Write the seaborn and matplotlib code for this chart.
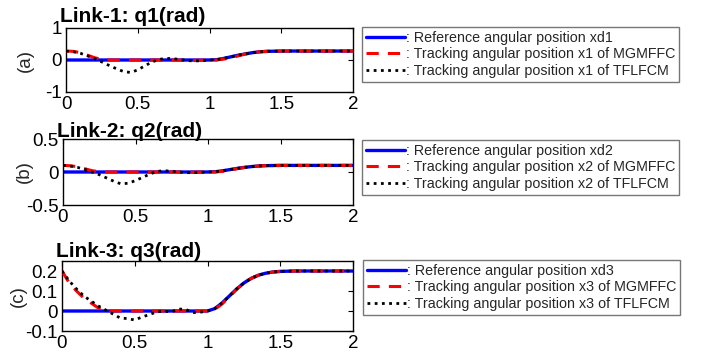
import numpy as np
import pandas as pd
import matplotlib
matplotlib.use("Agg")
import matplotlib.pyplot as plt
import seaborn as sns

# ---------------- data ----------------
t = [0.00, 0.05, 0.10, 0.15, 0.20, 0.25, 0.30, 0.35, 0.40, 0.45,
     0.50, 0.55, 0.60, 0.65, 0.70, 0.75, 0.80, 0.85, 0.90, 0.95,
     1.00, 1.05, 1.10, 1.15, 1.20, 1.25, 1.30, 1.35, 1.40, 1.45,
     1.50, 1.55, 1.60, 1.65, 1.70, 1.75, 1.80, 1.85, 1.90, 1.95, 2.00]

# Link 1
ref1 = [0, 0, 0, 0, 0, 0, 0, 0, 0, 0,
        0, 0, 0, 0, 0, 0, 0, 0, 0, 0,
        0, 0.01, 0.05, 0.10, 0.15, 0.19, 0.23, 0.255, 0.27, 0.275,
        0.28, 0.28, 0.28, 0.28, 0.28, 0.28, 0.28, 0.28, 0.28, 0.28, 0.28]
mg1 = [0.28, 0.27, 0.23, 0.15, 0.07, 0.02, 0.0, 0, 0, 0,
       0, 0, 0, 0, 0, 0, -0.005, -0.01, -0.01, -0.005,
       0, 0.0, 0.03, 0.06, 0.13, 0.19, 0.23, 0.26, 0.27, 0.275,
       0.28, 0.28, 0.28, 0.28, 0.28, 0.28, 0.28, 0.28, 0.28, 0.28, 0.28]
tf1 = [0.28, 0.26, 0.21, 0.13, 0.04, -0.06, -0.17, -0.27, -0.36, -0.39,
       -0.31, -0.18, -0.06, 0.02, 0.05, 0.04, 0.01, -0.02, -0.03, -0.02,
       0.0, 0.01, 0.05, 0.10, 0.15, 0.19, 0.23, 0.255, 0.27, 0.275,
       0.28, 0.28, 0.28, 0.28, 0.28, 0.28, 0.28, 0.28, 0.28, 0.28, 0.28]

# Link 2
ref2 = [0, 0, 0, 0, 0, 0, 0, 0, 0, 0,
        0, 0, 0, 0, 0, 0, 0, 0, 0, 0,
        0, 0.004, 0.018, 0.036, 0.054, 0.07, 0.082, 0.091, 0.096, 0.098,
        0.1, 0.1, 0.1, 0.1, 0.1, 0.1, 0.1, 0.1, 0.1, 0.1, 0.1]
mg2 = [0.1, 0.095, 0.08, 0.05, 0.02, 0.005, 0, 0, 0, 0,
       0, 0, 0, 0, 0, 0, 0, -0.003, -0.003, 0,
       0, 0.0, 0.01, 0.025, 0.05, 0.068, 0.082, 0.092, 0.097, 0.099,
       0.1, 0.1, 0.1, 0.1, 0.1, 0.1, 0.1, 0.1, 0.1, 0.1, 0.1]
tf2 = [0.1, 0.09, 0.07, 0.04, 0.0, -0.04, -0.09, -0.14, -0.18, -0.17,
       -0.13, -0.08, -0.03, 0.01, 0.02, 0.01, 0.0, -0.01, -0.01, -0.005,
       0, 0.004, 0.018, 0.036, 0.054, 0.07, 0.082, 0.091, 0.096, 0.098,
       0.1, 0.1, 0.1, 0.1, 0.1, 0.1, 0.1, 0.1, 0.1, 0.1, 0.1]

# Link 3
ref3 = [0, 0, 0, 0, 0, 0, 0, 0, 0, 0,
        0, 0, 0, 0, 0, 0, 0, 0, 0, 0,
        0, 0.012, 0.04, 0.075, 0.11, 0.14, 0.163, 0.179, 0.189, 0.195,
        0.198, 0.199, 0.2, 0.2, 0.2, 0.2, 0.2, 0.2, 0.2, 0.2, 0.2]
mg3 = [0.2, 0.14, 0.10, 0.065, 0.04, 0.015, 0.003, 0, 0, 0,
       0, 0, 0, 0, 0, 0, 0, 0, 0, 0,
       0, 0.008, 0.035, 0.072, 0.108, 0.14, 0.163, 0.179, 0.189, 0.195,
       0.198, 0.199, 0.2, 0.2, 0.2, 0.2, 0.2, 0.2, 0.2, 0.2, 0.2]
tf3 = [0.2, 0.15, 0.11, 0.075, 0.05, 0.025, 0.005, -0.015, -0.035, -0.038,
       -0.045, -0.03, -0.018, -0.005, 0.0, -0.005, 0.01, 0.008, -0.008, -0.006,
       0.0, 0.012, 0.04, 0.075, 0.11, 0.14, 0.163, 0.179, 0.189, 0.195,
       0.198, 0.199, 0.2, 0.2, 0.2, 0.2, 0.2, 0.2, 0.2, 0.2, 0.2]

titles = ["Link-1: q1(rad)", "Link-2: q2(rad)", "Link-3: q3(rad)"]
ylabels = ["(a)", "(b)", "(c)"]
ylims = [(-1, 1), (-0.5, 0.5), (-0.1, 0.25)]
yticks = [[-1, 0, 1], [-0.5, 0, 0.5], [-0.1, 0, 0.1, 0.2]]
ytick_labels = [["-1", "0", "1"], ["-0.5", "0", "0.5"], ["-0.1", "0", "0.1", "0.2"]]
xticks = [0, 0.5, 1, 1.5, 2]
xtick_labels = ["0", "0.5", "1", "1.5", "2"]
legend_labels = [
    [": Reference angular position xd1", ": Tracking angular position x1 of MGMFFC", ": Tracking angular position x1 of TFLFCM"],
    [": Reference angular position xd2", ": Tracking angular position x2 of MGMFFC", ": Tracking angular position x2 of TFLFCM"],
    [": Reference angular position xd3", ": Tracking angular position x3 of MGMFFC", ": Tracking angular position x3 of TFLFCM"],
]
series = [(ref1, mg1, tf1), (ref2, mg2, tf2), (ref3, mg3, tf3)]

# ---------------- style ----------------
sns.set_theme(style="white")
plt.rcParams["font.family"] = ["Liberation Sans", "DejaVu Sans"]

W, H = 715, 362
fig = plt.figure(figsize=(W / 100, H / 100), dpi=100)

# axes boxes in pixels: (left, top, right, bottom)
boxes = [(66, 28, 353, 92), (63, 139, 353, 205), (62, 261, 353, 331)]
legend_anchor = [(362, 27), (362, 140), (363, 260)]
title_dy = [6, 2, 4]
ylabel_right_px = [34, 33, 27]

styles = [
    dict(color="#0000ff", lw=2.4, ls="-"),
    dict(color="#ff0000", lw=2.2, ls=(0, (4, 3))),
    dict(color="black", lw=2.0, ls=(0, (1, 1.6))),
]

for i in range(3):
    l, tp, r, b = boxes[i]
    ax = fig.add_axes([l / W, 1 - b / H, (r - l) / W, (b - tp) / H])
    handles = []
    for j, vals in enumerate(series[i]):
        df = pd.DataFrame({"t": t, "v": vals})
        st = styles[j]
        sns.lineplot(data=df, x="t", y="v", ax=ax, color=st["color"],
                     linewidth=st["lw"], linestyle=st["ls"], zorder=2 + j)
        handles.append(ax.lines[-1])
    ax.set_xlim(0, 2)
    ax.set_ylim(*ylims[i])
    ax.set_xticks(xticks)
    ax.set_xticklabels(xtick_labels)
    ax.set_yticks(yticks[i])
    ax.set_yticklabels(ytick_labels[i])
    ax.set_xlabel("")
    ax.set_ylabel(ylabels[i], fontsize=13.5)
    ax.yaxis.set_label_coords((ylabel_right_px[i] - l) / (r - l), 0.5)
    ax.tick_params(direction="in", top=True, right=True, length=3.5,
                   width=0.8, labelsize=13.5, pad=3, colors="black")
    for sp in ax.spines.values():
        sp.set_color("black")
        sp.set_linewidth(1.0)
    ax.text(-6 / (r - l), 1 + title_dy[i] / (b - tp), titles[i],
            transform=ax.transAxes, ha="left", va="baseline",
            fontsize=15, fontweight="bold", color="black")
    lx, ly = legend_anchor[i]
    leg = fig.legend(handles, legend_labels[i], loc="upper left",
                     bbox_to_anchor=(lx / W, 1 - ly / H), borderaxespad=0,
                     fontsize=10.3, frameon=True, fancybox=False,
                     handlelength=2.7, handletextpad=0.05, labelspacing=0.15,
                     borderpad=0.3)
    leg.get_frame().set_edgecolor("#555555")
    leg.get_frame().set_linewidth(1.0)

fig.savefig("out.png", dpi=100)
